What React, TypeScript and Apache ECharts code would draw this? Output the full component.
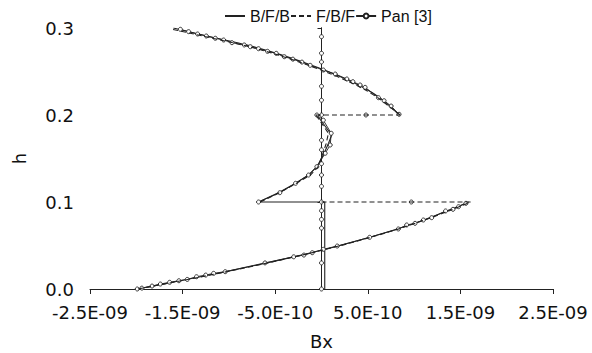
import React, { useEffect, useRef } from "react";
import * as echarts from "echarts";

// Bx values are stored in units of 1e-9, h is dimensionless.
const UNIT = 1e-9;

const seriesNames = ["B/F/B", "F/B/F", "Pan [3]"];
const xTicks = [-2.5, -1.5, -0.5, 0.5, 1.5, 2.5];

// B/F/B (solid)
const bfbLayer1 = [[-1.99, 0], [-1.5, 0.01], [-1.03, 0.02], [-0.59, 0.03], [-0.18, 0.04], [0.2, 0.05], [0.54, 0.06], [0.85, 0.07], [1.12, 0.08], [1.36, 0.09], [1.59, 0.1]];
const bfbLayer2 = [[-0.68, 0.1], [-0.46, 0.111], [-0.28, 0.1215], [-0.14, 0.131], [-0.05, 0.1406], [0.02, 0.154], [0.076, 0.1675], [0.11, 0.177], [-0.05, 0.2]];
const bfbLayer3 = [[0.84, 0.2], [0.74, 0.21], [0.63, 0.22], [0.48, 0.23], [0.29, 0.24], [0.07, 0.25], [-0.18, 0.26], [-0.46, 0.27], [-0.79, 0.28], [-1.2, 0.29], [-1.6, 0.3]];
const bfbStep = [[-0.68, 0.1], [0.035, 0.1]];
const bfbAxis = [[0.035, 0], [0.035, 0.1]];

// F/B/F (dashed)
const fbfLayer1 = [[-1.98, 0], [-1.49, 0.01], [-1.02, 0.02], [-0.58, 0.03], [-0.17, 0.04], [0.21, 0.05], [0.55, 0.06], [0.86, 0.07], [1.13, 0.08], [1.38, 0.09], [1.61, 0.1]];
const fbfLayer2 = [[-0.66, 0.1], [-0.45, 0.111], [-0.27, 0.1215], [-0.12, 0.131], [-0.04, 0.14], [0.01, 0.154], [0.05, 0.167], [0.075, 0.179], [-0.06, 0.2]];
const fbfLayer3 = [[0.85, 0.2], [0.74, 0.209], [0.62, 0.219], [0.47, 0.229], [0.28, 0.239], [0.06, 0.249], [-0.19, 0.259], [-0.47, 0.269], [-0.8, 0.279], [-1.21, 0.289], [-1.63, 0.299]];
const fbfStep1 = [[0, 0.1], [1.61, 0.1]];
const fbfStep2 = [[-0.06, 0.2], [0.85, 0.2]];

// Pan [3] (line with open circles)
const panLayer1 = [[-1.99, 0], [-1.94, 0.001], [-1.83, 0.0034], [-1.74, 0.0057], [-1.64, 0.0077], [-1.54, 0.0095], [-1.45, 0.011], [-1.35, 0.0141], [-1.25, 0.016], [-1.165, 0.018], [-1.04, 0.0199], [-0.61, 0.03], [-0.3, 0.037], [-0.19, 0.039], [-0.1, 0.0417], [0.02, 0.0456], [0.17, 0.0494], [0.52, 0.0594], [0.83, 0.069], [0.92, 0.0736], [1.01, 0.0755], [1.1, 0.0793], [1.19, 0.082], [1.34, 0.0897], [1.42, 0.0916], [1.48, 0.0946], [1.56, 0.0985]];
const panLayer2 = [[-0.68, 0.1], [-0.45, 0.1107], [-0.28, 0.1215], [-0.14, 0.131], [-0.05, 0.1406], [0.04, 0.156], [0.094, 0.1655], [0.105, 0.179], [0.02, 0.194], [-0.05, 0.2]];
const panLayer3 = [[0.838, 0.2008], [0.752, 0.2103], [0.676, 0.2164], [0.615, 0.2199], [0.471, 0.2318], [0.417, 0.2345], [0.339, 0.2383], [0.274, 0.2414], [0.148, 0.2471], [0.02, 0.2517], [-0.122, 0.2571], [-0.211, 0.2608], [-0.309, 0.2642], [-0.402, 0.267], [-0.489, 0.2709], [-0.583, 0.2732], [-0.68, 0.2762], [-0.769, 0.2785], [-0.834, 0.2805], [-0.967, 0.2831], [-1.057, 0.2862], [-1.147, 0.2882], [-1.244, 0.2908], [-1.338, 0.2931], [-1.435, 0.2958], [-1.524, 0.2985]];
const panAxis = [[0, 0], [0, 0.03], [0, 0.07], [0, 0.08], [0, 0.09], [0, 0.1], [0, 0.118], [0, 0.131], [0, 0.144], [0, 0.16], [0, 0.171], [0, 0.2], [0, 0.217], [0, 0.233], [0, 0.261], [0, 0.271], [0, 0.29]];
const panAxisTop = [[0, 0.29], [0, 0.302]];
const panStepMarks = [[0.97, 0.1], [0.48, 0.2]];

const INK = "#222";

const toPoints = (pts: number[][]) => pts.map(([b, h]) => [b * UNIT, h]);

const formatSci = (v: number) => {
  const [m, e] = v.toExponential(1).split("e");
  const n = parseInt(e, 10);
  return `${m}E${n < 0 ? "-" : "+"}${String(Math.abs(n)).padStart(2, "0")}`;
};

function line(name: string, pts: number[][], kind: "solid" | "dashed" | "pan", opts: any = {}) {
  const base: any = {
    type: "line",
    name,
    data: toPoints(pts),
    silent: true,
    z: kind === "pan" ? 3 : kind === "dashed" ? 4 : 2,
    lineStyle: {
      color: INK,
      width: kind === "pan" ? 0.9 : 1.1,
      type: kind === "dashed" ? [5, 3] : "solid",
    },
    itemStyle: { color: "#fff", borderColor: INK, borderWidth: 0.9 },
    symbol: kind === "pan" ? "circle" : "none",
    symbolSize: 4,
    showSymbol: kind === "pan",
  };
  return { ...base, ...opts };
}

function buildOption() {
  const [bfb, fbf, pan] = seriesNames;
  const series = [
    line(bfb, bfbLayer1, "solid", { smooth: 0.3 }),
    line(bfb, bfbLayer2, "solid"),
    line(bfb, bfbLayer3, "solid", { smooth: 0.3 }),
    line(bfb, bfbStep, "solid"),
    line(bfb, bfbAxis, "solid"),
    line(fbf, fbfLayer1, "dashed", { smooth: 0.3 }),
    line(fbf, fbfLayer2, "dashed"),
    line(fbf, fbfLayer3, "dashed", { smooth: 0.3 }),
    line(fbf, fbfStep1, "dashed"),
    line(fbf, fbfStep2, "dashed"),
    line(pan, panLayer1, "pan"),
    line(pan, panLayer2, "pan"),
    line(pan, panLayer3, "pan"),
    line(pan, panAxis, "pan"),
    line(pan, panAxisTop, "pan", { symbol: "none", showSymbol: false }),
    line(pan, panStepMarks, "pan", { lineStyle: { width: 0, opacity: 0 } }),
  ];

  const tickVals = xTicks.map((t) => t * UNIT);
  const axisFont = { fontFamily: "DejaVu Sans", fontSize: 18, color: "#111" };

  return {
    animation: false,
    backgroundColor: "#fff",
    legend: {
      data: [
        { name: bfb, itemStyle: { opacity: 0 } },
        { name: fbf, itemStyle: { opacity: 0 } },
        { name: pan },
      ],
      left: 219,
      top: 3,
      itemWidth: 20,
      itemHeight: 6,
      itemGap: 0,
      textStyle: { fontFamily: "Liberation Sans", fontSize: 16, color: "#111" },
    },
    grid: {
      left: 90,
      right: 39,
      top: 28,
      bottom: 64,
      containLabel: false,
      outerBoundsMode: "none",
    },
    xAxis: {
      type: "value",
      min: xTicks[0] * UNIT,
      max: xTicks[xTicks.length - 1] * UNIT,
      name: "Bx",
      nameLocation: "middle",
      nameGap: 43,
      nameTextStyle: axisFont,
      axisLine: { show: true, onZero: false, lineStyle: { color: INK, width: 1 } },
      axisTick: { show: true, inside: false, length: 5, customValues: tickVals, lineStyle: { color: INK } },
      axisLabel: { ...axisFont, margin: 14, customValues: tickVals, formatter: formatSci },
      splitLine: { show: false },
    },
    yAxis: {
      type: "value",
      min: 0,
      max: 0.3,
      interval: 0.1,
      name: "h",
      nameLocation: "middle",
      nameGap: 62,
      nameTextStyle: axisFont,
      axisLine: { show: true, lineStyle: { color: INK, width: 1 } },
      axisTick: { show: true, inside: false, length: 4, lineStyle: { color: INK } },
      axisLabel: { ...axisFont, margin: 16, formatter: (v: number) => v.toFixed(1) },
      splitLine: { show: false },
    },
    series,
  };
}

export default function App() {
  const ref = useRef<HTMLDivElement>(null);
  useEffect(() => {
    if (!ref.current) return;
    const chart = echarts.init(ref.current, null, { renderer: "svg" });
    chart.setOption(buildOption() as any);
    return () => chart.dispose();
  }, []);
  return (
    <div
      ref={ref}
      style={{ position: "fixed", left: 0, top: 0, width: 592, height: 353, background: "#fff" }}
    />
  );
}
